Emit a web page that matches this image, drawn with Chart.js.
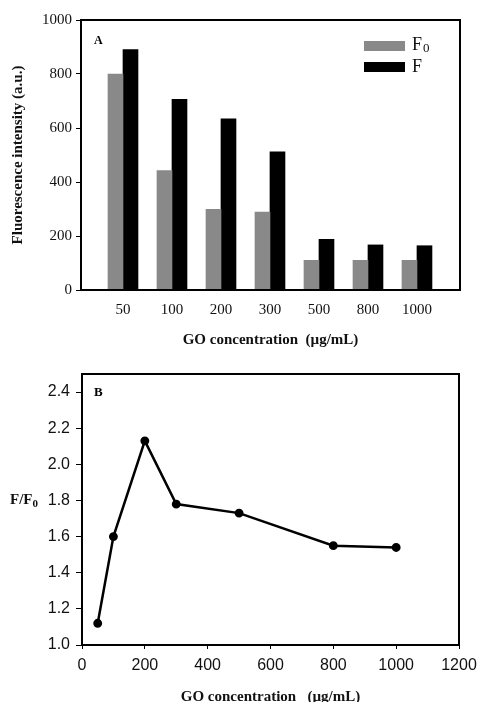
<!DOCTYPE html>
<html>
<head>
<meta charset="utf-8">
<script src="https://cdn.jsdelivr.net/npm/chart.js@4.4.1/dist/chart.umd.min.js"></script>
<style>
  html, body { margin: 0; padding: 0; background: #fff; }
  #wrap { position: relative; width: 478px; height: 702px; overflow: hidden; }
  #boxA { position: absolute; left: 0; top: 0; width: 478px; height: 350px; }
  #boxB { position: absolute; left: 0; top: 350px; width: 478px; height: 352px; }
</style>
</head>
<body>
<div id="wrap">
  <div id="boxA"><canvas id="graphique-a"></canvas></div>
  <div id="boxB"><canvas id="graphique-b"></canvas></div>
</div>
<script>
/** Données */
const concentrations = ['50', '100', '200', '300', '500', '800', '1000'];
const f0Values = [800, 442, 299, 289, 110, 110, 110];
const fValues = [890, 706, 634, 512, 188, 167, 164];

const goDoses = [50, 100, 200, 300, 500, 800, 1000];
const ratioValues = [1.12, 1.60, 2.13, 1.78, 1.73, 1.55, 1.54];

const serif = '"Liberation Serif", "Times New Roman", serif';
const sans = '"Liberation Sans", Arial, sans-serif';

/** Cadre noir autour de la zone de tracé */
const cadre = {
  id: 'cadre',
  afterDatasetsDraw(chart) {
    const { ctx, chartArea: a } = chart;
    ctx.save();
    ctx.strokeStyle = '#000';
    ctx.lineWidth = 2;
    ctx.strokeRect(a.left, a.top, a.right - a.left, a.bottom - a.top);
    ctx.restore();
  }
};

/** Texte avec un indice (F0) */
const texteIndice = function texteIndice(ctx, base, sub, x, y, size) {
  ctx.font = `${size}px ${serif}`;
  ctx.textBaseline = 'middle';
  ctx.textAlign = 'left';
  ctx.fillText(base, x, y);
  const w = ctx.measureText(base).width;
  ctx.font = `${Math.round(size * 0.7)}px ${serif}`;
  ctx.fillText(sub, x + w + 1, y + size * 0.22);
};

/** Lettre du panneau + légende du graphique A */
const decorA = {
  id: 'decorA',
  afterDraw(chart) {
    const { ctx, chartArea: a } = chart;
    ctx.save();
    ctx.fillStyle = '#000';
    ctx.font = `bold 12px ${serif}`;
    ctx.textBaseline = 'middle';
    ctx.fillText('A', a.left + 13, a.top + 21);
    chart.data.datasets.forEach((ds, i) => {
      const y = 41 + i * 21;
      ctx.fillStyle = ds.backgroundColor;
      ctx.fillRect(364, y, 41, 10);
      ctx.fillStyle = '#111';
      if (i === 0) {
        texteIndice(ctx, 'F', '0', 412, y + 4, 18);
      } else {
        ctx.font = `18px ${serif}`;
        ctx.fillText('F', 412, y + 5);
      }
    });
    ctx.restore();
  }
};

const decorB = {
  id: 'decorB',
  afterDraw(chart) {
    const { ctx, chartArea: a } = chart;
    ctx.save();
    ctx.fillStyle = '#000';
    ctx.font = `bold 13px ${serif}`;
    ctx.textBaseline = 'middle';
    ctx.fillText('B', a.left + 12, a.top + 19);
    ctx.font = `bold 15px ${serif}`;
    ctx.fillStyle = '#111';
    ctx.fillText('F/F', 10, 150);
    const w = ctx.measureText('F/F').width;
    ctx.font = `bold 11px ${serif}`;
    ctx.fillText('0', 10 + w, 154);
    ctx.restore();
  }
};

/** Graphique A : barres groupées */
const ctxA = document.getElementById('graphique-a').getContext('2d');
new Chart(ctxA, {
  type: 'bar',
  data: {
    datasets: [
      {
        label: 'F0',
        data: f0Values.map((v, i) => ({ x: i, y: v })),
        backgroundColor: '#898989',
        borderWidth: 0,
        barThickness: 15
      },
      {
        label: 'F',
        data: fValues.map((v, i) => ({ x: i, y: v })),
        backgroundColor: '#000000',
        borderWidth: 0,
        barThickness: 15
      }
    ]
  },
  options: {
    responsive: true,
    maintainAspectRatio: false,
    animation: false,
    layout: { padding: { left: 0, top: 20, right: 18, bottom: 0 } },
    plugins: { legend: { display: false }, tooltip: { enabled: false } },
    scales: {
      x: {
        type: 'linear',
        offset: false,
        min: -0.857,
        max: 6.878,
        afterBuildTicks: s => { s.ticks = s.ticks.filter(t => Number.isInteger(t.value)); },
        afterFit: s => { s.height = 60; s.paddingLeft = 0; s.paddingRight = 0; },
        grid: { display: false, drawTicks: false },
        border: { display: false },
        ticks: {
          stepSize: 1,
          includeBounds: false,
          autoSkip: false,
          maxRotation: 0,
          padding: 11,
          color: '#111',
          font: { family: serif, size: 15 },
          callback: v => concentrations[v] ?? ''
        },
        title: {
          display: true,
          text: 'GO concentration  (µg/mL)',
          color: '#111',
          font: { family: serif, size: 15, weight: 'bold' },
          padding: { top: 0, bottom: 1 }
        }
      },
      y: {
        min: 0,
        max: 1000,
        afterFit: s => { s.width = 81; },
        grid: { drawOnChartArea: false, drawTicks: true, tickLength: 5, color: '#000' },
        border: { display: false },
        ticks: {
          stepSize: 200,
          padding: 4,
          color: '#111',
          font: { family: serif, size: 15 },
          callback: v => String(v)
        },
        title: {
          display: true,
          text: 'Fluorescence intensity (a.u.)',
          color: '#111',
          font: { family: serif, size: 15, weight: 'bold' },
          padding: { top: 9, bottom: 0 }
        }
      }
    }
  },
  plugins: [cadre, decorA]
});

/** Graphique B : rapport F/F0 */
const ctxB = document.getElementById('graphique-b').getContext('2d');
new Chart(ctxB, {
  type: 'line',
  data: {
    datasets: [{
      label: 'F/F0',
      data: goDoses.map((d, i) => ({ x: d, y: ratioValues[i] })),
      borderColor: '#000',
      backgroundColor: '#000',
      borderWidth: 2.5,
      pointRadius: 3.2,
      pointBackgroundColor: '#000',
      tension: 0
    }]
  },
  options: {
    responsive: true,
    maintainAspectRatio: false,
    animation: false,
    layout: { padding: { left: 0, top: 24, right: 19, bottom: 0 } },
    plugins: { legend: { display: false }, tooltip: { enabled: false } },
    scales: {
      x: {
        type: 'linear',
        min: 0,
        max: 1200,
        afterFit: s => { s.height = 57; s.paddingLeft = 0; s.paddingRight = 0; },
        grid: { drawOnChartArea: false, drawTicks: true, tickLength: 4, color: '#000' },
        border: { display: false },
        ticks: {
          stepSize: 200,
          maxRotation: 0,
          padding: 7,
          color: '#111',
          font: { family: sans, size: 16 },
          callback: v => String(v)
        },
        title: {
          display: true,
          text: 'GO concentration   (µg/mL)',
          color: '#111',
          font: { family: serif, size: 15, weight: 'bold' },
          padding: { top: 0, bottom: -4 }
        }
      },
      y: {
        min: 1.0,
        max: 2.5,
        afterBuildTicks: s => { s.ticks = s.ticks.filter(t => t.value < 2.45); },
        afterFit: s => { s.width = 82; },
        grid: { drawOnChartArea: false, drawTicks: true, tickLength: 6, color: '#000' },
        border: { display: false },
        ticks: {
          stepSize: 0.2,
          padding: 6,
          color: '#111',
          font: { family: sans, size: 16 },
          callback: v => Number(v).toFixed(1)
        }
      }
    }
  },
  plugins: [cadre, decorB]
});
</script>
</body>
</html>
